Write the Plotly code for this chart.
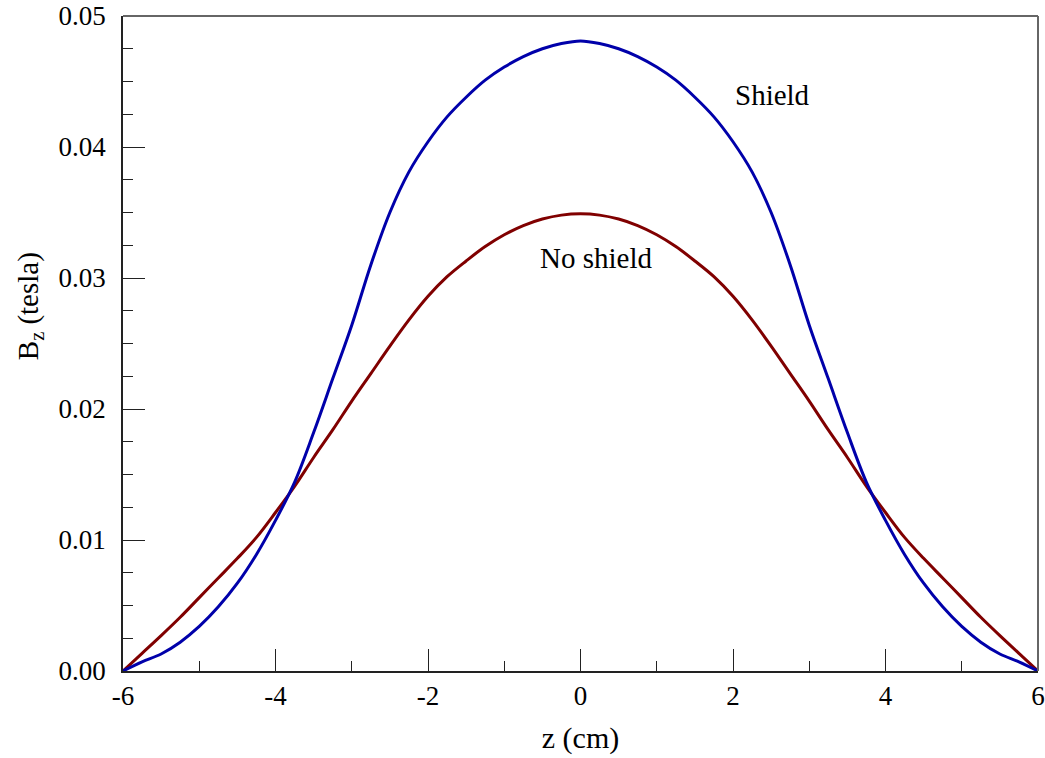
import plotly.graph_objects as go

# Data
z_cm = [-6, -5.75, -5.5, -5.25, -5, -4.75, -4.5, -4.25, -4, -3.75, -3.5, -3.25, -3,
        -2.75, -2.5, -2.25, -2, -1.75, -1.5, -1.25, -1, -0.75, -0.5, -0.25, 0,
        0.25, 0.5, 0.75, 1, 1.25, 1.5, 1.75, 2, 2.25, 2.5, 2.75, 3, 3.25, 3.5,
        3.75, 4, 4.25, 4.5, 4.75, 5, 5.25, 5.5, 5.75, 6]

b_shield = [0.0, 0.0007, 0.0013, 0.0022, 0.0034, 0.0049, 0.0067, 0.0089, 0.0115,
            0.0144, 0.0182, 0.0223, 0.0264, 0.0310, 0.0350, 0.0381, 0.0404, 0.0423,
            0.0438, 0.0451, 0.0461, 0.0469, 0.0475, 0.0479, 0.0481,
            0.0479, 0.0475, 0.0469, 0.0461, 0.0451, 0.0438, 0.0423, 0.0404, 0.0381,
            0.0350, 0.0310, 0.0264, 0.0223, 0.0182, 0.0144, 0.0115, 0.0089, 0.0067,
            0.0049, 0.0034, 0.0022, 0.0013, 0.0007, 0.0]

b_no_shield = [0.0, 0.00135, 0.0027, 0.0041, 0.0056, 0.0071, 0.0086, 0.0102, 0.0121,
               0.0141, 0.0163, 0.0184, 0.0206, 0.0227, 0.0248, 0.0268, 0.0286, 0.0301,
               0.0313, 0.0324, 0.0333, 0.0340, 0.0345, 0.0348, 0.0349,
               0.0348, 0.0345, 0.0340, 0.0333, 0.0324, 0.0313, 0.0301, 0.0286, 0.0268,
               0.0248, 0.0227, 0.0206, 0.0184, 0.0163, 0.0141, 0.0121, 0.0102, 0.0086,
               0.0071, 0.0056, 0.0041, 0.0027, 0.00135, 0.0]

x_tick_vals = [-6, -4, -2, 0, 2, 4, 6]
x_tick_text = ["-6", "-4", "-2", "0", "2", "4", "6"]
y_tick_vals = [0.0, 0.01, 0.02, 0.03, 0.04, 0.05]
y_tick_text = ["0.00", "0.01", "0.02", "0.03", "0.04", "0.05"]

labels = ["Shield", "No shield"]
label_x = [2.52, 0.2]
label_y = [0.0440, 0.0315]

FONT = "Liberation Serif, Times New Roman, serif"

fig = go.Figure()
fig.add_trace(go.Scatter(x=z_cm, y=b_no_shield, mode="lines",
                         line=dict(color="#800000", width=3, shape="spline", smoothing=1.0),
                         name="No shield", hoverinfo="skip"))
fig.add_trace(go.Scatter(x=z_cm, y=b_shield, mode="lines",
                         line=dict(color="#0000AA", width=3, shape="spline", smoothing=1.0),
                         name="Shield", hoverinfo="skip"))

for t, ax_, ay_ in zip(labels, label_x, label_y):
    fig.add_annotation(x=ax_, y=ay_, text=t, showarrow=False,
                       font=dict(family=FONT, size=29, color="#000"))

# y-axis title as rotated annotation (placed slightly above centre as in reference)
fig.add_annotation(xref="paper", yref="paper", x=-0.1016, y=0.557,
                   text="B<sub>z</sub> (tesla)", textangle=-90, showarrow=False,
                   xanchor="center", yanchor="middle",
                   font=dict(family=FONT, size=29, color="#000"))

axis_common = dict(
    showgrid=False, zeroline=False, showline=True, linecolor="#222", linewidth=1.5,
    ticks="inside", ticklen=22, tickwidth=1.3, tickcolor="#222",
    tickfont=dict(family=FONT, size=27, color="#000"), automargin=False,
)

fig.update_xaxes(range=[-6, 6], tickvals=x_tick_vals, ticktext=x_tick_text,
                 minor=dict(ticks="inside", ticklen=10, dtick=1, tick0=0,
                            tickcolor="#222", tickwidth=1.3),
                 title=dict(text="z (cm)", font=dict(family=FONT, size=30, color="#000"),
                            standoff=17),
                 **axis_common)
fig.update_yaxes(range=[0, 0.05], tickvals=y_tick_vals, ticktext=y_tick_text,
                 minor=dict(ticks="inside", ticklen=10, dtick=0.0025, tick0=0,
                            tickcolor="#222", tickwidth=1.3),
                 ticklabelstandoff=10,
                 **axis_common)

# top and right frame lines (grey)
fig.add_shape(type="line", xref="paper", yref="paper", x0=0, x1=1, y0=1, y1=1,
              line=dict(color="#666", width=2))
fig.add_shape(type="line", xref="paper", yref="paper", x0=1, x1=1, y0=0, y1=1,
              line=dict(color="#666", width=2))

fig.update_layout(
    width=1045, height=758,
    margin=dict(l=123, r=7, t=16, b=87),
    paper_bgcolor="white", plot_bgcolor="white",
    showlegend=False,
    font=dict(family=FONT),
)

fig.write_html("out.html")
